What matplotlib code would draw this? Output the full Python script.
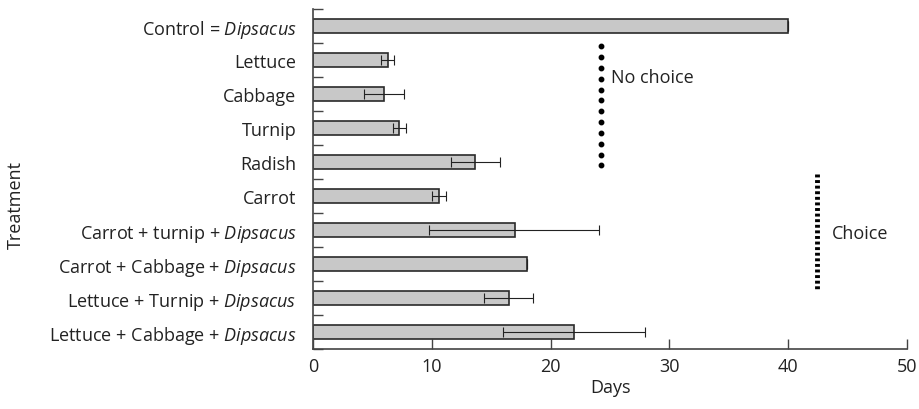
import numpy as np
import matplotlib.pyplot as plt

plt.rcParams['font.family'] = ['Open Sans', 'DejaVu Sans']
plt.rcParams['mathtext.fontset'] = 'custom'
plt.rcParams['mathtext.rm'] = 'Open Sans'
plt.rcParams['mathtext.it'] = 'Open Sans:italic'

# data (top to bottom)
treatments = ['Control = $\\it{Dipsacus}$', 'Lettuce', 'Cabbage', 'Turnip', 'Radish', 'Carrot',
              'Carrot + turnip + $\\it{Dipsacus}$', 'Carrot + Cabbage + $\\it{Dipsacus}$',
              'Lettuce + Turnip + $\\it{Dipsacus}$', 'Lettuce + Cabbage + $\\it{Dipsacus}$']
days = [40.0, 6.3, 6.0, 7.25, 13.65, 10.6, 17.0, 18.0, 16.5, 22.0]
err_low = [0, 0.6, 1.75, 0.5, 2.05, 0.6, 7.2, 0, 2.15, 6.05]
err_high = [0, 0.55, 1.7, 0.6, 2.05, 0.6, 7.1, 0, 2.05, 5.95]

no_choice_x = 24.25
no_choice_y = [0.6, 4.1]
choice_x = 42.4
choice_y = [4.35, 7.8]

fs = 13
tc = '#222222'

fig = plt.figure(figsize=(9.19, 4.10), dpi=100)
ax = fig.add_axes([0.3406, 0.1463, 0.6464, 0.8293])

y = np.arange(len(treatments))
ax.barh(y, days, height=0.42, color='#c8c8c8', edgecolor='#2a2a2a', linewidth=1.2, zorder=2)
ax.errorbar(days, y, xerr=[err_low, err_high], fmt='none', ecolor='#222222',
            elinewidth=0.8, capsize=3.5, capthick=0.8, zorder=3)

# no choice / choice brackets
ax.plot([no_choice_x] * 12, np.linspace(no_choice_y[0], no_choice_y[1], 12), 'o',
        color='black', markersize=3.2, clip_on=False)
ax.text(no_choice_x + 0.8, 1.5, 'No choice', fontsize=fs, va='center', ha='left', color=tc)
ax.plot([choice_x, choice_x], choice_y, color='black', linewidth=3.5,
        linestyle=(0, (0.6, 0.55)), clip_on=False)
ax.text(choice_x + 1.3, 6.1, 'Choice', fontsize=fs, va='center', ha='left', color=tc)

ax.set_ylim(len(treatments) - 0.5, -0.5)
ax.set_xlim(0, 50)
ax.set_xticks([0, 10, 20, 30, 40, 50])
ax.set_yticks(np.arange(len(treatments) + 1) - 0.5)
ax.set_yticks(y, minor=True)
ax.set_yticklabels([])
ax.set_yticklabels(treatments, minor=True)
ax.tick_params(axis='y', which='major', direction='in', length=7, width=1, color='#444444')
ax.tick_params(axis='y', which='minor', length=0, pad=12, labelsize=fs, labelcolor=tc)
ax.tick_params(axis='x', direction='in', length=7, width=1, color='#444444',
               labelsize=fs, pad=6, labelcolor=tc)

for s in ['top', 'right']:
    ax.spines[s].set_visible(False)
for s in ['left', 'bottom']:
    ax.spines[s].set_color('#444444')
    ax.spines[s].set_linewidth(1.2)

ax.set_xlabel('Days', fontsize=fs, color=tc, labelpad=2)
fig.text(0.017, 0.5, 'Treatment', rotation=90, fontsize=fs, va='center', ha='center', color=tc)

fig.savefig('out.png', dpi=100)
